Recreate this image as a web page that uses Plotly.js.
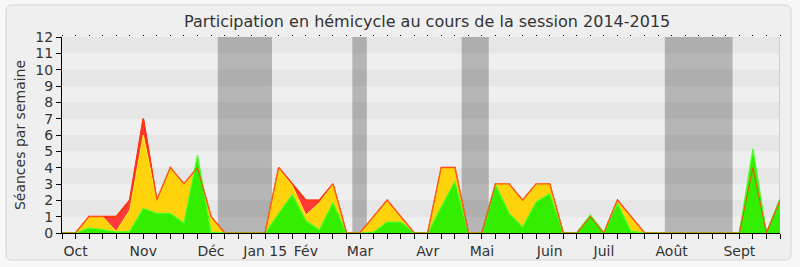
<!DOCTYPE html>
<html>
<head>
<meta charset="utf-8">
<script src="https://cdn.plot.ly/plotly-3.0.1.min.js"></script>
<style>
  html, body { margin: 0; padding: 0; background: #f7f7f7; }
  #chart { width: 800px; height: 267px; }
</style>
</head>
<body>
<div id="chart"></div>
<script>
// Weeks of the session (index 0 = end of September 2014)
const semaines = [0,1,2,3,4,5,6,7,8,9,10,11,12,13,14,15,16,17,18,19,20,21,22,23,24,25,26,27,28,29,30,31,32,33,34,35,36,37,38,39,40,41,42,43,44,45,46,47,48,49,50,51,52,53];

// Month labels and the week where each is placed
const moisLabels = ["Oct","Nov","Déc","Jan 15","Fév","Mar","Avr","Mai","Juin","Juil","Août","Sept"];
const moisSemaines = [1,6,11,15,18,22,27,31,36,40,45,50];

// Total sittings per week (red)
const seances = [0,0,1,1,1,2,7,2,4,3,4,1,0,0,0,0,4,3,2,2,3,0,0,1,2,1,0,0,4,4,0,0,3,3,2,3,3,0,0,1,0,2,1,0,0,0,0,0,0,0,0,4,0,2];
// Presences per week (yellow)
const presences = [0,0,1,1,0.1,1.4,6,2,4,3,4,1,0,0,0,0,4,2.9,1.1,1.85,3,0,0,1,2,1,0,0,4,4,0,0,3,3,2,3,3,0,0,1,0,2,1,0,0,0,0,0,0,0,0,4,0,2];
// Participations per week (green)
const participations = [0,0,0.3,0.2,0.05,0.1,1.5,1.2,1.2,0.6,4.75,0.05,0,0,0,0,1.2,2.35,0.75,0.2,1.85,0,0,0.05,0.67,0.67,0,0,1.6,3.15,0,0,2.95,1.2,0.35,1.9,2.4,0,0,1.1,0,1.8,0.1,0,0,0,0,0,0,0,0,5.15,0,2.1];

// Parliamentary breaks (week ranges)
const vacancesDebut = [11.5, 21.43, 29.5, 44.5];
const vacancesFin   = [15.5, 22.5, 31.5, 49.5];

const yTicks = [0,1,2,3,4,5,6,7,8,9,10,11,12];
const bandesSombres = [[1,2],[3,4],[5,6],[7,8],[9,10],[11,12]];

const tickText = semaines.map(w => {
  const i = moisSemaines.indexOf(w);
  return i >= 0 ? moisLabels[i] : "";
});

const FONT = "DejaVu Sans, Verdana, sans-serif";

const traces = [
  {x: semaines, y: seances, type: "scatter", mode: "lines", fill: "tozeroy",
   fillcolor: "#ff3a3a", line: {color: "#ff1010", width: 1.6}, hoverinfo: "skip", showlegend: false},
  {x: semaines, y: presences, type: "scatter", mode: "lines", fill: "tozeroy",
   fillcolor: "#ffd30c", line: {color: "#ffec30", width: 1}, hoverinfo: "skip", showlegend: false},
  {x: semaines, y: participations, type: "scatter", mode: "lines", fill: "tozeroy",
   fillcolor: "#33ee00", line: {color: "#4dff2a", width: 1.3}, hoverinfo: "skip", showlegend: false},
  {x: semaines, y: seances, type: "scatter", mode: "lines",
   line: {color: "rgba(255,70,10,0.9)", width: 1.1}, hoverinfo: "skip", showlegend: false},
  {x: [0], y: [0], xaxis: "x2", type: "scatter", mode: "none", hoverinfo: "skip", showlegend: false}
];

// plot area geometry for paper-coordinate conversions
const L = 62, R = 20, T = 37, B = 34, W = 800, H = 267;
const pw = W - L - R, ph = H - T - B;
const px = v => (v - L) / pw;
const py = v => (H - B - v) / ph;

function roundedRect(x0, y0, x1, y1, r) {
  const rx = r / pw, ry = r / ph;
  const a = px(x0), b = px(x1), top = py(y0), bot = py(y1);
  return `M ${a+rx},${top} L ${b-rx},${top} Q ${b},${top} ${b},${top-ry} L ${b},${bot+ry} Q ${b},${bot} ${b-rx},${bot} L ${a+rx},${bot} Q ${a},${bot} ${a},${bot+ry} L ${a},${top-ry} Q ${a},${top} ${a+rx},${top} Z`;
}

const shapes = [];
shapes.push({type: "path", xref: "paper", yref: "paper", layer: "below",
  path: roundedRect(6, 5, 791, 260, 6), fillcolor: "#efefef", line: {color: "#d4d4d4", width: 1}});
bandesSombres.forEach(b => shapes.push({type: "rect", xref: "x", yref: "y", layer: "below",
  x0: 0, x1: 53, y0: b[0], y1: b[1], fillcolor: "#e6e6e6", line: {width: 0}}));
vacancesDebut.forEach((d, i) => shapes.push({type: "rect", xref: "x", yref: "y", layer: "below",
  x0: d, x1: vacancesFin[i], y0: 0, y1: 12, fillcolor: "rgba(0,0,0,0.245)", line: {width: 0}}));
shapes.push({type: "line", xref: "x", yref: "y", layer: "below",
  x0: 53, x1: 53, y0: 0, y1: 12, line: {color: "#c4c4c4", width: 1.5}});

const layout = {
  width: W, height: H,
  margin: {l: L, r: R, t: T, b: B, pad: 0},
  paper_bgcolor: "#f7f7f7",
  plot_bgcolor: "#fafafa",
  font: {family: FONT, color: "#333333", size: 14},
  title: {text: "Participation en hémicycle au cours de la session 2014-2015",
          font: {family: FONT, size: 16, color: "#333333"},
          xref: "container", x: 0.534, xanchor: "center",
          yref: "container", y: 0.921, yanchor: "middle"},
  xaxis: {range: [0, 53], tickmode: "array", tickvals: semaines, ticktext: tickText,
          ticks: "outside", ticklen: 5, tickwidth: 1, tickcolor: "#000",
          showline: true, linecolor: "#000", linewidth: 1,
          showgrid: false, zeroline: false, fixedrange: true,
          tickfont: {family: FONT, size: 14, color: "#333333"}},
  xaxis2: {range: [0, 53], overlaying: "x", side: "top", anchor: "y",
           tickmode: "array", tickvals: semaines, ticks: "outside", ticklen: 1.5,
           tickwidth: 1, tickcolor: "#000", showticklabels: false,
           showline: false, showgrid: false, zeroline: false},
  yaxis: {range: [0, 12], tickmode: "array", tickvals: yTicks,
          ticks: "outside", ticklen: 5, tickwidth: 1, tickcolor: "#000",
          showline: true, linecolor: "#000", linewidth: 1,
          showgrid: false, zeroline: false, fixedrange: true,
          tickfont: {family: FONT, size: 14, color: "#333333"},
          title: {text: "Séances par semaine", font: {family: FONT, size: 14, color: "#333333"}, standoff: 6}},
  shapes: shapes,
  showlegend: false
};

Plotly.newPlot("chart", traces, layout, {staticPlot: true, displayModeBar: false});
</script>
</body>
</html>
